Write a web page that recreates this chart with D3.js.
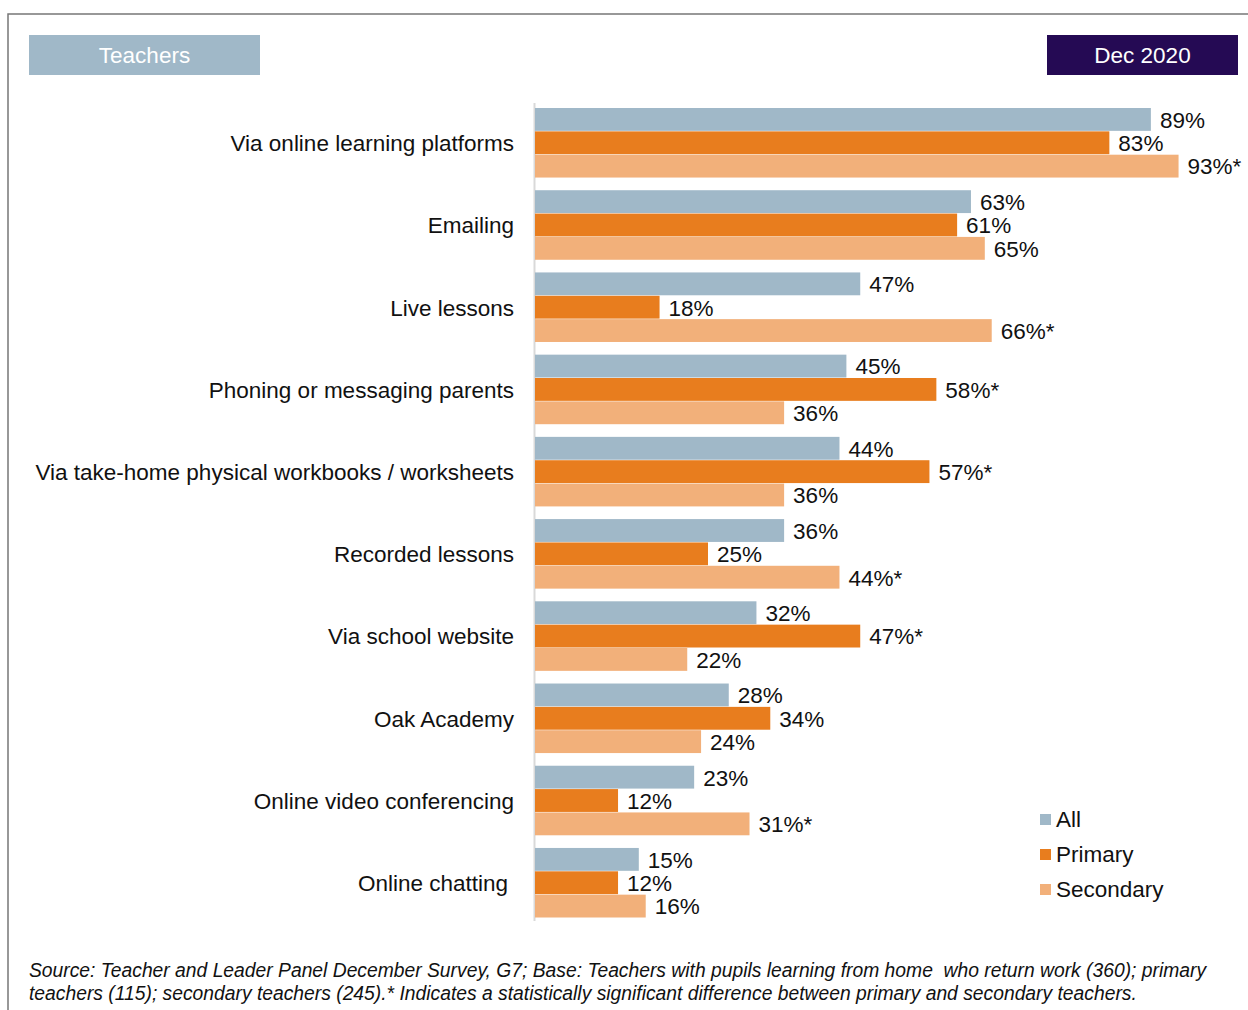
<!DOCTYPE html>
<html><head><meta charset="utf-8">
<script src="https://cdn.jsdelivr.net/npm/d3@7"></script>
<style>body{margin:0;background:#fff}svg{display:block;font-family:"Liberation Sans",Arial,sans-serif}</style>
</head><body>
<svg id="c" width="1248" height="1010"></svg>
<script>
const categories = ["Via online learning platforms","Emailing","Live lessons","Phoning or messaging parents","Via take-home physical workbooks / worksheets","Recorded lessons","Via school website","Oak Academy","Online video conferencing","Online chatting"];
const seriesNames = ["All","Primary","Secondary"];
const allValues = [89,63,47,45,44,36,32,28,23,15];
const primaryValues = [83,61,18,58,57,25,47,34,12,12];
const secondaryValues = [93,65,66,36,36,44,22,24,31,16];
const primarySig = [false,false,false,true,true,false,true,false,false,false];
const secondarySig = [true,false,true,false,false,true,false,false,true,false];
const colors = ["#a0b8c8","#e87d1e","#f2b07a"];
const headerLeft = "Teachers";
const headerRight = "Dec 2020";
const sourceLines = ["Source: Teacher and Leader Panel December Survey, G7; Base: Teachers with pupils learning from home  who return work (360); primary","teachers (115); secondary teachers (245).* Indicates a statistically significant difference between primary and secondary teachers."];

const FS = 22.5;
const svg = d3.select("#c");
// frame
svg.append("path").attr("d","M8,1012 V14 H1250").attr("fill","none").attr("stroke","#777").attr("stroke-width",1.5);
// headers
svg.append("rect").attr("x",29).attr("y",35).attr("width",231).attr("height",40).attr("fill","#a0b8c8");
svg.append("text").attr("x",144.5).attr("y",55).attr("dy","0.36em").attr("text-anchor","middle").attr("fill","#fff").attr("font-size",FS).text(headerLeft);
svg.append("rect").attr("x",1047).attr("y",35).attr("width",191).attr("height",40).attr("fill","#250a54");
svg.append("text").attr("x",1142.5).attr("y",55).attr("dy","0.36em").attr("text-anchor","middle").attr("fill","#fff").attr("font-size",FS).text(headerRight);

const x = d3.scaleLinear().domain([0,100]).range([535,535+692]);
const y = d3.scaleBand().domain(categories).range([108,918]).paddingInner(0.148).paddingOuter(0);
const ys = d3.scaleBand().domain(seriesNames).range([0,y.bandwidth()]).padding(0);

const rows = categories.map((c,i)=>({c, vals:[
  {s:"All",v:allValues[i],sig:false},
  {s:"Primary",v:primaryValues[i],sig:primarySig[i]},
  {s:"Secondary",v:secondaryValues[i],sig:secondarySig[i]}]}));

// axis line
svg.append("line").attr("x1",534.5).attr("x2",534.5).attr("y1",103).attr("y2",921).attr("stroke","#d9d9d9").attr("stroke-width",2);

const g = svg.append("g").selectAll("g").data(rows).join("g").attr("transform",d=>`translate(0,${y(d.c)})`);
g.selectAll("rect").data(d=>d.vals).join("rect")
  .attr("x",x(0)).attr("y",d=>ys(d.s)).attr("width",d=>x(d.v)-x(0)).attr("height",ys.bandwidth()-0.5)
  .attr("fill",(d,i)=>colors[i]);
g.selectAll("text.v").data(d=>d.vals).join("text").attr("class","v")
  .attr("x",d=>x(d.v)+9).attr("y",d=>ys(d.s)+ys.bandwidth()/2).attr("dy","0.36em")
  .attr("font-size",FS).attr("fill","#111").text(d=>d.v+"%"+(d.sig?"*":""));

// category labels
svg.append("g").selectAll("text").data(categories).join("text")
  .attr("x",(d,i)=>i===categories.length-1?508:514).attr("y",d=>y(d)+y.bandwidth()/2).attr("dy","0.36em").attr("text-anchor","end")
  .attr("font-size",FS).attr("fill","#111").text(d=>d);

// legend
const lg = svg.append("g").selectAll("g").data(seriesNames).join("g").attr("transform",(d,i)=>`translate(1040,${819+i*35})`);
lg.append("rect").attr("x",0).attr("y",-5).attr("width",11).attr("height",11).attr("fill",(d,i)=>colors[i]);
lg.append("text").attr("x",16).attr("y",0).attr("dy","0.36em").attr("font-size",FS).attr("fill","#111").text(d=>d);

// source
svg.append("g").selectAll("text").data(sourceLines).join("text")
  .attr("x",29).attr("y",(d,i)=>977+i*23).attr("font-size",19.3).attr("font-style","italic").attr("fill","#111")
  .style("white-space","pre").text(d=>d);
</script>
</body></html>
